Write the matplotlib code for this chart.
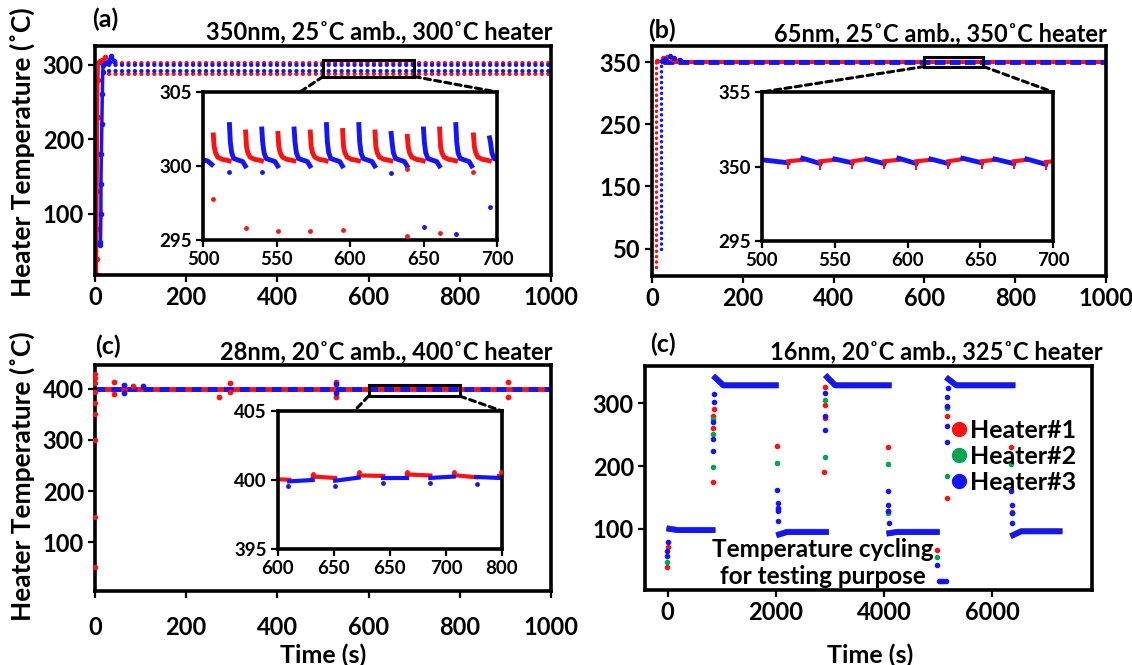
import matplotlib.pyplot as plt
from matplotlib.patches import Rectangle, ConnectionPatch
from matplotlib.lines import Line2D

plt.rcParams['font.family'] = ['Lato', 'DejaVu Sans']
plt.rcParams['font.weight'] = 'bold'

W, H = 1132, 665
RED, BLUE, GREEN = '#ff1111', '#1414ff', '#00a550'
DOTS = (0, (0.05, 1.5))

# ---------------- (a) 350nm, 300C heater ----------------
a_red_ramp_t = [4, 4, 5, 5, 6, 6, 7, 8, 10, 16, 22, 26]
a_red_ramp_T = [18, 40, 80, 130, 180, 230, 280, 303, 305, 306, 310, 303]
a_blue_ramp_t = [12, 12, 13, 13, 14, 15, 16, 17, 18, 24, 30, 35, 42]
a_blue_ramp_T = [58, 62, 100, 140, 180, 220, 260, 290, 300, 302, 304, 311, 305]
a_plateau_t = [30, 1000]
a_rows_red = [302.5, 287]
a_rows_blue = [300, 291]

# inset: spikes at the start of each heater's control slot
a_in_red_t = [507, 529, 551, 573, 595, 617, 639, 661, 684]
a_in_red_peak = [302.1, 302.3, 302.2, 302.3, 302.4, 302.3, 302.0, 302.5, 302.1]
a_in_blue_t = [518, 540, 562, 584, 606, 628, 650, 672, 695]
a_in_blue_peak = [302.8, 302.5, 302.5, 302.8, 302.8, 302.2, 302.5, 302.8, 301.9]
a_in_dt = [0, 0.6, 1.5, 3, 6, 9, 10.8]
a_in_red_tail = [301.3, 300.9, 300.6, 300.45, 300.4, 300.35]
a_in_blue_tail = [301.6, 300.9, 300.5, 300.4, 300.3, 300.0]
a_in_start_t = [500, 503, 506]
a_in_start_T = [300.4, 300.35, 300.1]
a_in_red_out_t = [507, 529, 551, 573, 595, 639, 661, 684, 639]
a_in_red_out_T = [297.8, 295.8, 295.6, 295.6, 295.7, 295.3, 295.5, 299.6, 299.8]
a_in_blue_out_t = [518, 540, 628, 650, 672, 695]
a_in_blue_out_T = [299.6, 299.6, 299.5, 295.9, 295.4, 297.2]

# ---------------- (b) 65nm, 350C heater ----------------
b_red_ramp_t = [9, 9]
b_red_ramp_T = [20, 352]
b_blue_ramp_t = [20, 20]
b_blue_ramp_T = [50, 352]
b_red_over_t = [12, 25, 32, 45, 60]
b_red_over_T = [352, 356, 358, 355, 353]
b_blue_over_t = [22, 28, 40, 48, 62]
b_blue_over_T = [352, 355, 360, 356, 353]
b_plateau_t = [25, 1000]
b_plateau_T = [350, 350]

b_in_blue_t0 = [500, 528, 550, 572, 594, 616, 638, 660, 682]
b_in_blue_t1 = [518, 540, 562, 584, 606, 628, 651, 673, 695]
b_in_blue_T0 = [350.45, 350.55, 350.5, 350.5, 350.55, 350.5, 350.55, 350.5, 350.5]
b_in_blue_T1 = [350.25, 350.2, 350.25, 350.2, 350.2, 350.2, 350.25, 350.2, 350.15]
b_in_red_t0 = [518, 540, 562, 584, 606, 628, 651, 673, 695]
b_in_red_t1 = [528, 550, 572, 594, 616, 638, 660, 682, 700]
b_in_red_T0 = [350.35, 350.35, 350.35, 350.35, 350.35, 350.35, 350.35, 350.35, 350.3]
b_in_red_T1 = [350.45, 350.45, 350.5, 350.45, 350.45, 350.5, 350.45, 350.45, 350.35]
b_in_dip_T = [349.9, 349.85, 349.9, 349.9, 349.85, 349.9, 349.9, 349.9, 349.85]

# ---------------- (c) 28nm, 400C heater ----------------
c_edge_t = [0, 0, 0, 0, 0, 0, 0, 0, 0]
c_edge_T = [430, 422, 412, 395, 372, 350, 300, 150, 52]
c_plateau_t = [0, 1000]
c_plateau_T = [400, 400]
c_spike_red_t = [42, 42, 84, 273, 295, 295, 528, 528, 905, 905]
c_spike_red_T = [413, 391, 405, 384, 412, 395, 413, 385, 413, 385]
c_spike_blue_t = [63, 63, 106, 528, 528]
c_spike_blue_T = [408, 393, 406, 410, 393]

c_in_red_t0 = [600, 631, 672, 715, 757, 797]
c_in_red_t1 = [610, 651, 694, 736, 777, 800]
c_in_red_T0 = [400.05, 400.25, 400.33, 400.4, 400.35, 400.3]
c_in_red_T1 = [400.02, 400.15, 400.3, 400.33, 400.2, 400.3]
c_in_blue_t0 = [610, 651, 694, 736, 777]
c_in_blue_t1 = [631, 672, 715, 757, 797]
c_in_blue_T0 = [399.9, 399.95, 400.15, 400.15, 400.22]
c_in_blue_T1 = [400.0, 400.17, 400.15, 400.25, 400.15]
c_in_red_dot_t = [631, 672, 715, 757, 799]
c_in_red_dot_T = [400.45, 400.55, 400.6, 400.6, 400.55]
c_in_blue_dot_t = [609, 651, 694, 736, 778]
c_in_blue_dot_T = [399.6, 399.55, 399.75, 399.75, 399.7]
c_in_xticks = [600, 650, 700, 750, 800]
c_in_xlabels = ['600', '650', '650', '700', '800']

# ---------------- (d) 16nm, temperature cycling ----------------
d_plateau_t0 = [30, 880, 2060, 2950, 4100, 5190, 6390]
d_plateau_t1 = [830, 2000, 2930, 4090, 4980, 6380, 7250]
d_plateau_start = [100, 340, 91, 341, 93, 338, 90]
d_plateau_T = [98, 328, 95, 328, 95, 328, 96]
d_red_t = [-20, 0, 845, 845, 845, 850, 2030, 2035, 2900, 2905, 2910, 2915,
           4080, 4085, 4975, 5160, 5165, 5170, 6360, 6365]
d_red_T = [40, 72, 174, 261, 279, 290, 232, 130, 191, 277, 297, 325,
           230, 128, 66, 149, 280, 294, 230, 127]
d_green_t = [-20, 845, 845, 845, 2030, 2035, 2905, 2910, 4080, 4085, 4975,
             5165, 5170, 6360, 6365]
d_green_T = [47, 199, 251, 275, 205, 133, 215, 305, 203, 125, 55,
             184, 292, 203, 125]
d_blue_t = [-20, -10, 0, 845, 845, 845, 850, 855, 2030, 2032, 2035, 2040, 2045,
            2905, 2910, 2915, 4080, 4082, 4085, 4090, 4975, 5020, 5060, 5100,
            5140, 5165, 5168, 5170, 5175, 5180, 6360, 6362, 6365, 6370]
d_blue_T = [57, 65, 79, 224, 243, 270, 302, 314, 162, 142, 133, 128, 112,
            258, 279, 316, 160, 138, 128, 110, 42, 17, 17, 17,
            17, 238, 264, 296, 309, 324, 160, 138, 126, 110]
d_labels = ['Heater#1', 'Heater#2', 'Heater#3']

fig = plt.figure(figsize=(W / 100, H / 100), dpi=100)


def box(l, t, r, b, size=17, z=0):
    ax = fig.add_axes([l / W, 1 - b / H, (r - l) / W, (b - t) / H], zorder=z)
    for s in ['top', 'right', 'bottom', 'left']:
        ax.spines[s].set_linewidth(2.6)
    ax.tick_params(direction='out', length=5, width=1.6, labelsize=size, pad=3)
    return ax


def zoom_link(ax, axin, x0, x1, y0, y1, frac):
    ax.add_patch(Rectangle((x0, y0), x1 - x0, y1 - y0, fill=False, lw=2.2,
                           ec='k', zorder=6))
    for xa, xb in [(x0, frac), (x1, 1.0)]:
        fig.add_artist(ConnectionPatch(xyA=(xa, y0), coordsA=ax.transData,
                                       xyB=(xb, 1), coordsB=axin.transAxes,
                                       color='k', lw=2.2, ls=(0, (2, 1.4))))


def dotted(ax, t, T, c, lw=3):
    ax.plot(t, T, color=c, lw=lw, ls=DOTS, dash_capstyle='round')


# ---- (a)
ax = box(95, 46, 551, 275)
ax.plot(a_red_ramp_t, a_red_ramp_T, color=RED, lw=2, marker='o', ms=3)
for lv in a_rows_red:
    dotted(ax, a_plateau_t, [lv, lv], RED)
for lv in a_rows_blue:
    dotted(ax, a_plateau_t, [lv, lv], BLUE)
ax.plot(a_blue_ramp_t, a_blue_ramp_T, color=BLUE, lw=2.5, marker='o', ms=3)
ax.set_xlim(0, 1000)
ax.set_ylim(18, 325)
ax.set_yticks([100, 200, 300])
ax.set_xticks(range(0, 1001, 200))

axin = box(203, 92, 497, 240, size=13.5, z=2)
axin.plot(a_in_start_t, a_in_start_T, color=BLUE, lw=3.5)
for t, p in zip(a_in_red_t, a_in_red_peak):
    axin.plot([t + d for d in a_in_dt], [p] + a_in_red_tail, color=RED, lw=3.5)
for t, p in zip(a_in_blue_t, a_in_blue_peak):
    axin.plot([t + d for d in a_in_dt], [p] + a_in_blue_tail, color=BLUE, lw=3.5)
axin.scatter(a_in_red_out_t, a_in_red_out_T, s=6, color=RED, zorder=3)
axin.scatter(a_in_blue_out_t, a_in_blue_out_T, s=6, color=BLUE, zorder=3)
axin.set_xlim(500, 700)
axin.set_ylim(295, 305)
axin.set_yticks([295, 300, 305])
axin.set_xticks(range(500, 701, 50))
zoom_link(ax, axin, 500, 700, 284, 306, 0.33)

# ---- (b)
ax = box(652, 46, 1106, 276)
dotted(ax, b_red_ramp_t, b_red_ramp_T, RED, lw=2.5)
dotted(ax, b_blue_ramp_t, b_blue_ramp_T, BLUE, lw=2.5)
ax.plot(b_plateau_t, b_plateau_T, color=RED, lw=3)
ax.plot(b_plateau_t, b_plateau_T, color=BLUE, lw=3.5, ls=(0, (2.2, 0.9)))
ax.scatter(b_red_over_t, b_red_over_T, s=8, color=RED, zorder=3)
ax.scatter(b_blue_over_t, b_blue_over_T, s=8, color=BLUE, zorder=3)
ax.set_xlim(0, 1000)
ax.set_ylim(6, 376)
ax.set_yticks([50, 150, 250, 350])
ax.set_xticks(range(0, 1001, 200))

axin = box(762, 92, 1053, 241, size=13.5, z=2)
for i in range(len(b_in_blue_t0)):
    axin.plot([b_in_blue_t0[i], b_in_blue_t1[i]], [b_in_blue_T0[i], b_in_blue_T1[i]],
              color=BLUE, lw=3.5)
    axin.plot([b_in_red_t0[i], b_in_red_t1[i]], [b_in_red_T0[i], b_in_red_T1[i]],
              color=RED, lw=3)
    axin.plot([b_in_red_t0[i], b_in_red_t0[i]], [b_in_red_T0[i], b_in_dip_T[i]],
              color=RED, lw=1.5)
axin.set_xlim(500, 700)
axin.set_ylim(345, 355)
axin.set_yticks([345, 350, 355], ['295', '350', '355'])
axin.set_xticks(range(500, 701, 50))
zoom_link(ax, axin, 600, 730, 343, 359, 0.0)

# ---- (c)
ax = box(95, 365, 551, 591)
ax.plot(c_plateau_t, c_plateau_T, color=RED, lw=3.5)
ax.plot(c_plateau_t, c_plateau_T, color=BLUE, lw=3.5, ls=(0, (2, 1.3)))
ax.scatter(c_edge_t, c_edge_T, s=8, color=RED, zorder=3, clip_on=False)
ax.scatter(c_spike_red_t, c_spike_red_T, s=10, color=RED, zorder=3)
ax.scatter(c_spike_blue_t, c_spike_blue_T, s=10, color=BLUE, zorder=3)
ax.set_xlim(0, 1000)
ax.set_ylim(4, 447)
ax.set_yticks([100, 200, 300, 400])
ax.set_xticks(range(0, 1001, 200))
ax.tick_params(axis='x', pad=13)

axin = box(278, 411, 502, 549, size=13.5, z=2)
for i in range(len(c_in_red_t0)):
    axin.plot([c_in_red_t0[i], c_in_red_t1[i]], [c_in_red_T0[i], c_in_red_T1[i]],
              color=RED, lw=3)
for i in range(len(c_in_blue_t0)):
    axin.plot([c_in_blue_t0[i], c_in_blue_t1[i]], [c_in_blue_T0[i], c_in_blue_T1[i]],
              color=BLUE, lw=3)
axin.scatter(c_in_red_dot_t, c_in_red_dot_T, s=6, color=RED, zorder=3)
axin.scatter(c_in_blue_dot_t, c_in_blue_dot_T, s=6, color=BLUE, zorder=3)
axin.set_xlim(600, 800)
axin.set_ylim(395, 405)
axin.set_yticks([395, 400, 405])
axin.set_xticks(c_in_xticks, c_in_xlabels)
zoom_link(ax, axin, 600, 800, 386, 408, 0.34)

# ---- (d)
ax = box(645, 366, 1092, 590)
for c, dy in [(RED, 0.8), (GREEN, 0.4), (BLUE, 0.0)]:
    for t0, t1, s, lv in zip(d_plateau_t0, d_plateau_t1, d_plateau_start, d_plateau_T):
        ax.plot([t0, t0 + 150, t1], [s + dy, lv + dy, lv + dy], color=c, lw=4)
ax.scatter(d_red_t, d_red_T, s=9, color=RED, zorder=3)
ax.scatter(d_green_t, d_green_T, s=9, color=GREEN, zorder=3)
ax.scatter(d_blue_t, d_blue_T, s=9, color=BLUE, zorder=4)
ax.set_xlim(-420, 7850)
ax.set_ylim(3, 359)
ax.set_yticks([100, 200, 300])
ax.set_xticks([0, 2000, 4000, 6000])
handles = [Line2D([], [], ls='none', marker='o', ms=10, color=c) for c in (RED, GREEN, BLUE)]
ax.legend(handles, d_labels, loc='upper left', bbox_to_anchor=(951 / W, 1 - 419 / H),
          bbox_transform=fig.transFigure, frameon=False, fontsize=18,
          handlelength=0.6, handletextpad=0.15, labelspacing=0.12, borderpad=0,
          borderaxespad=0)
fig.text(823 / W, 1 - 563 / H, 'Temperature cycling\nfor testing purpose',
         ha='center', va='center', fontsize=17.5, linespacing=1.25)

# ---- labels
for x, y, s in [(92, 19, '(a)'), (648, 30, '(b)'), (95, 346, '(c)'), (650, 344, '(c)')]:
    fig.text(x / W, 1 - y / H, s, ha='left', va='center', fontsize=18)
for x, y, s in [(553, 32, '350nm, 25˚C amb., 300˚C heater'),
                (1107, 34, '65nm, 25˚C amb., 350˚C heater'),
                (553, 352, '28nm, 20˚C amb., 400˚C heater'),
                (1103, 352, '16nm, 20˚C amb., 325˚C heater')]:
    fig.text(x / W, 1 - y / H, s, ha='right', va='center', fontsize=17)
for y in (152, 476):
    fig.text(22 / W, 1 - y / H, 'Heater Temperature (˚C)', rotation=90,
             ha='center', va='center', fontsize=19)
for x in (323, 870):
    fig.text(x / W, 1 - 655 / H, 'Time (s)', ha='center', va='center', fontsize=18)

fig.savefig('out.png', dpi=100)
